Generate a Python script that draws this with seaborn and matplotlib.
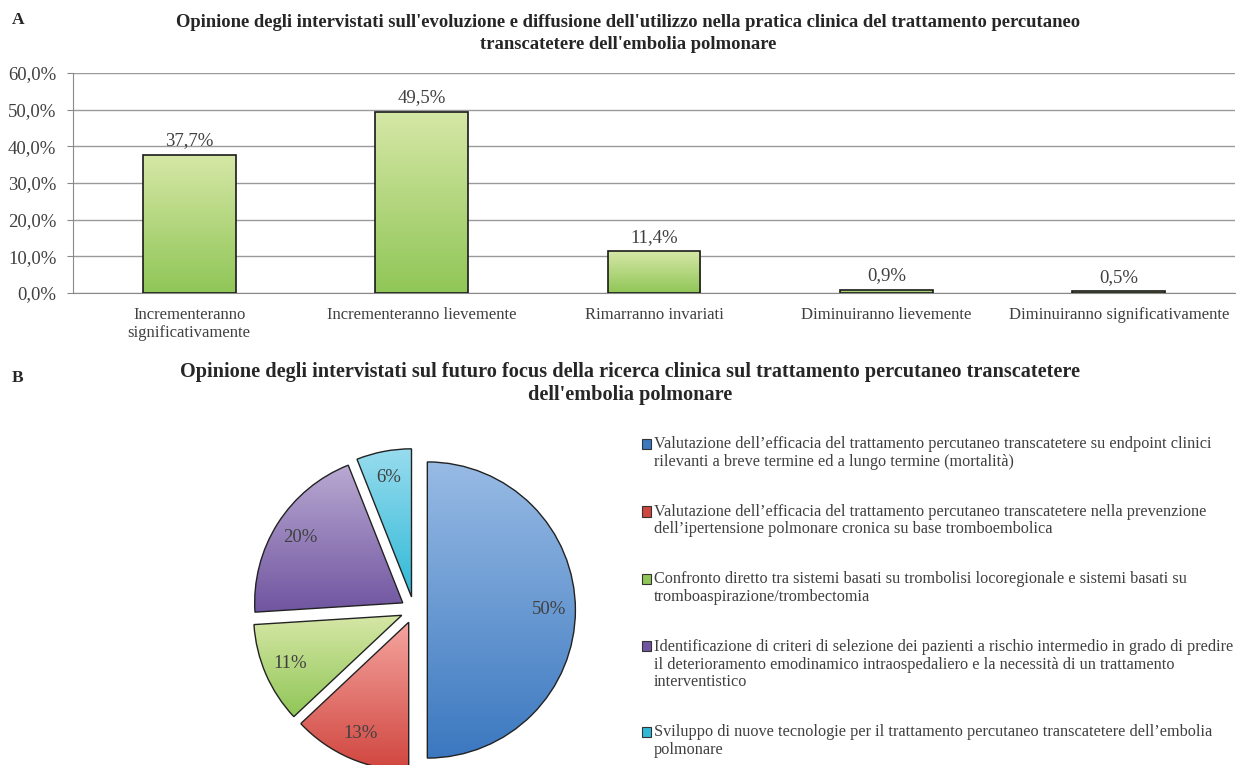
import numpy as np
import matplotlib
matplotlib.use("Agg")
import matplotlib.pyplot as plt
import seaborn as sns
from matplotlib.colors import LinearSegmentedColormap
from matplotlib.patches import Patch, Rectangle
from matplotlib.legend_handler import HandlerPatch
from matplotlib.ticker import FuncFormatter, FixedLocator

# ---- data ----
bar_categories = ["Incrementeranno\nsignificativamente", "Incrementeranno lievemente",
                  "Rimarranno invariati", "Diminuiranno lievemente",
                  "Diminuiranno significativamente"]
bar_values = [37.7, 49.5, 11.4, 0.9, 0.5]

pie_labels = [
    "Valutazione dell\u2019efficacia del trattamento percutaneo transcatetere su endpoint clinici\nrilevanti a breve termine ed a lungo termine (mortalit\u00e0)",
    "Valutazione dell\u2019efficacia del trattamento percutaneo transcatetere nella prevenzione\ndell\u2019ipertensione polmonare cronica su base tromboembolica",
    "Confronto diretto tra sistemi basati su trombolisi locoregionale e sistemi basati su\ntromboaspirazione/trombectomia",
    "Identificazione di criteri di selezione dei pazienti a rischio intermedio in grado di predire\nil deterioramento emodinamico intraospedaliero e la necessit\u00e0 di un trattamento\ninterventistico",
    "Sviluppo di nuove tecnologie per il trattamento percutaneo transcatetere dell\u2019embolia\npolmonare",
]
pie_values = [50, 13, 11, 20, 6]

title_a = ("Opinione degli intervistati sull'evoluzione e diffusione dell'utilizzo nella pratica clinica del trattamento percutaneo\n"
           "transcatetere dell'embolia polmonare")
title_b = ("Opinione degli intervistati sul futuro focus della ricerca clinica sul trattamento percutaneo transcatetere\n"
           "dell'embolia polmonare")

bar_grad = ("#d6e7a6", "#90c657")
pie_grads = [("#98bbe4", "#3b78c0"), ("#f5a5a0", "#d0463f"), ("#d6e7a6", "#90c657"),
             ("#b9a9d2", "#7055a0"), ("#98dcee", "#30b9d7")]

sns.set_style("white")
plt.rcParams["font.family"] = ["Liberation Serif", "DejaVu Serif"]
txt = "#404040"
leg_size = 11.7
leg_linespacing = 1.15


def gradient_fill(ax, patch, top, bottom, extent):
    cmap = LinearSegmentedColormap.from_list("g", [bottom, top])
    grad = np.linspace(0, 1, 256).reshape(-1, 1)
    im = ax.imshow(grad, cmap=cmap, extent=extent, origin="lower", aspect="auto",
                   interpolation="bicubic", zorder=patch.get_zorder() - 0.1)
    im.set_clip_path(patch)


class FirstLineHandler(HandlerPatch):
    # put the square next to the first line of a multi-line label
    def __init__(self, nlines):
        super().__init__()
        self.nlines = nlines

    def create_artists(self, legend, orig_handle, xdescent, ydescent, width, height,
                       fontsize, trans):
        shift = (self.nlines - 1) / 2 * fontsize * leg_linespacing
        r = Rectangle((-xdescent, -ydescent + shift), width, height,
                      facecolor=orig_handle.get_facecolor(),
                      edgecolor=orig_handle.get_edgecolor(),
                      linewidth=orig_handle.get_linewidth(), transform=trans)
        return [r]


fig = plt.figure(figsize=(12.4, 7.65), dpi=100)

# ---- panel A ----
ax = fig.add_axes([73 / 1240, 1 - 293 / 765, 1162 / 1240, 220 / 765])
sns.barplot(x=bar_categories, y=bar_values, ax=ax, width=0.4, color=bar_grad[1],
            edgecolor="#1a1a1a", linewidth=1.2)
for p in ax.patches:
    p.set_zorder(3)
    x0, y0, w, h = p.get_x(), p.get_y(), p.get_width(), p.get_height()
    gradient_fill(ax, p, bar_grad[0], bar_grad[1], (x0, x0 + w, y0, y0 + h))
    p.set_facecolor("none")
ax.bar_label(ax.containers[0], labels=[f"{v:.1f}%".replace(".", ",") for v in bar_values],
             padding=4, fontsize=13.5, color=txt)
ax.set_xlim(-0.5, 4.5)
ax.set_ylim(0, 60)
ax.yaxis.set_major_locator(FixedLocator(np.arange(0, 61, 10)))
ax.yaxis.set_major_formatter(FuncFormatter(lambda v, _: f"{v:.1f}%".replace(".", ",")))
ax.set_xticks(range(5))
ax.set_xticks(np.arange(-0.5, 5, 1), minor=True)
ax.tick_params(axis="x", which="major", length=0, pad=10, labelsize=12, labelcolor=txt)
ax.tick_params(axis="x", which="minor", length=5, color="#888888", direction="out")
ax.tick_params(axis="y", length=4, color="#888888", direction="out", labelsize=13.5,
               labelcolor=txt, pad=8, left=True)
for t in ax.get_xticklabels():
    t.set_linespacing(1.2)
ax.grid(axis="y", color="#9a9a9a", linewidth=1)
ax.set_axisbelow(True)
for s in ["top", "right"]:
    ax.spines[s].set_visible(False)
for s in ["left", "bottom"]:
    ax.spines[s].set_color("#8a8a8a")
ax.set_xlabel("")
ax.set_ylabel("")

fig.text(12 / 1240, 1 - 20 / 765, "A", fontsize=12.5, fontweight="bold", va="center")
fig.text(628 / 1240, 1 - 14 / 765, title_a, fontsize=13.4, fontweight="bold",
         ha="center", va="top", multialignment="center", linespacing=1.4)

# ---- panel B ----
fig.text(12 / 1240, 1 - 378 / 765, "B", fontsize=12.5, fontweight="bold", va="center")
fig.text(630 / 1240, 1 - 362 / 765, title_b, fontsize=14.6, fontweight="bold",
         ha="center", va="top", multialignment="center", linespacing=1.22)

size = 385
pax = fig.add_axes([(414 - size / 2) / 1240, 1 - (610 + size / 2) / 765, size / 1240, size / 765])
wedges, _, autotexts = pax.pie(pie_values, startangle=90, counterclock=False,
                               explode=[0.09] * 5, autopct="%.0f%%", pctdistance=0.82,
                               wedgeprops=dict(edgecolor="#222222", linewidth=1),
                               textprops=dict(fontsize=13.5, color=txt))
for w, (top, bottom) in zip(wedges, pie_grads):
    w.set_zorder(3)
    cx, cy = w.center
    ang = np.radians(np.linspace(w.theta1, w.theta2, 100))
    xs = np.r_[cx, cx + w.r * np.cos(ang)]
    ys = np.r_[cy, cy + w.r * np.sin(ang)]
    gradient_fill(pax, w, top, bottom, (xs.min(), xs.max(), ys.min(), ys.max()))
    w.set_facecolor("none")
for t in autotexts:
    t.set_zorder(5)
pax.set_xlim(-1.3, 1.3)
pax.set_ylim(-1.3, 1.3)
pax.set_aspect("equal")
pax.axis("off")

handles = [Patch(facecolor=b, edgecolor="#333333", linewidth=0.8) for _, b in pie_grads]
hmap = {h: FirstLineHandler(lab.count("\n") + 1) for h, lab in zip(handles, pie_labels)}
leg = fig.legend(handles, pie_labels, loc="upper left", bbox_to_anchor=(642 / 1240, 1 - 436 / 765),
                 frameon=False, fontsize=leg_size, labelspacing=2.08, handlelength=0.55,
                 handleheight=0.6, handletextpad=0.2, borderpad=0, borderaxespad=0,
                 labelcolor=txt, handler_map=hmap)
for t in leg.get_texts():
    t.set_linespacing(leg_linespacing)

fig.savefig("out.png", dpi=100)
